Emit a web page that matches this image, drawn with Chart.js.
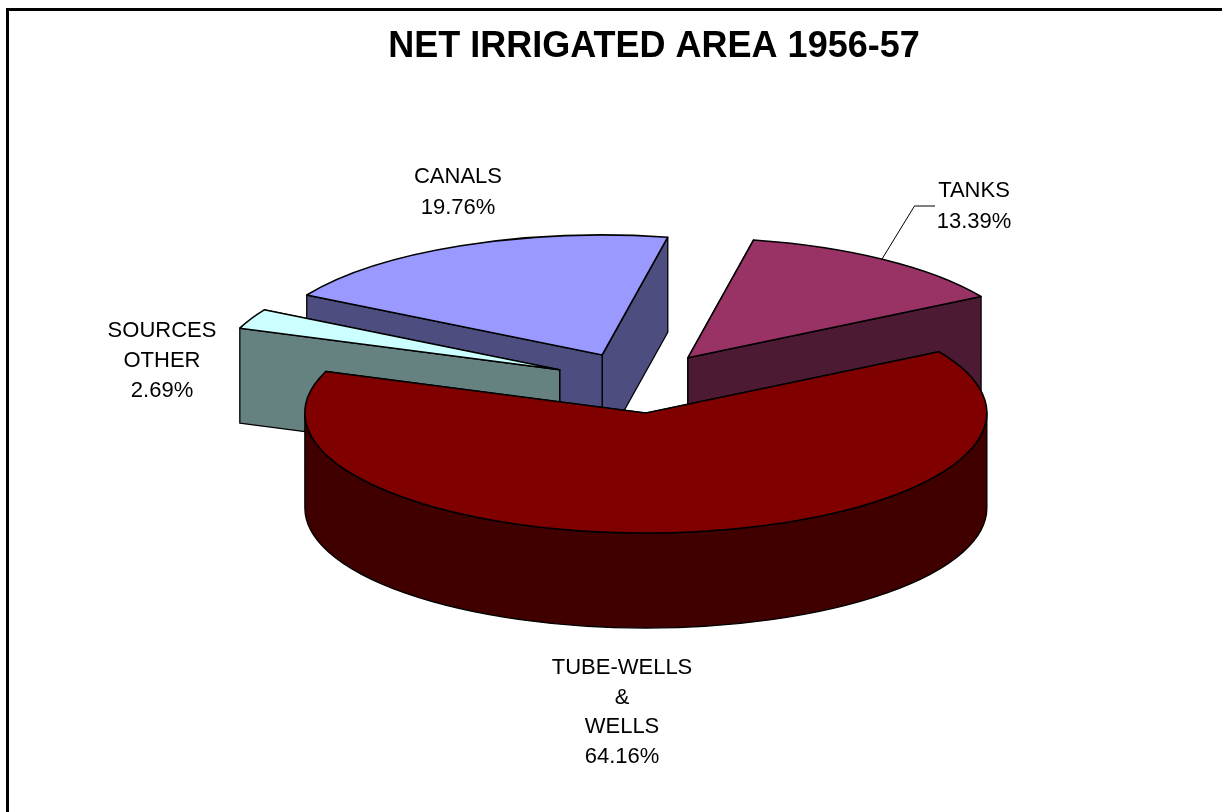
<!DOCTYPE html>
<html>
<head>
<meta charset="utf-8">
<title>Net Irrigated Area 1956-57</title>
<script src="https://cdn.jsdelivr.net/npm/chart.js@4"></script>
<style>html,body{margin:0;padding:0;background:#fff}canvas{display:block}</style>
</head>
<body>
<canvas id="c" width="1222" height="812"></canvas>
<script>
const categories = ['TUBE-WELLS & WELLS', 'SOURCES OTHER', 'CANALS', 'TANKS'];
const shares = [64.16, 2.69, 19.76, 13.39];
const topColours = ['#800000', '#CCFFFF', '#9999FF', '#993366'];
const wallColours = ['#400000', '#668280', '#4D4D80', '#4D1A33'];
const labelLines = [
  ['TUBE-WELLS', '&', 'WELLS', '64.16%'],
  ['SOURCES', 'OTHER', '2.69%'],
  ['CANALS', '19.76%'],
  ['TANKS', '13.39%']
];
const labelCentres = [[622, 668], [162, 331], [458, 177], [974, 191]];
const labelLineGaps = [29.6, 30, 31, 31];
const drawOrder = [2, 3, 1, 0];
const title = 'NET IRRIGATED AREA 1956-57';

const view = {cx: 638, cy: 382.7, tilt: 0.352, depth: 95};
const font = '"Liberation Sans", Arial, sans-serif';

const pie3d = {
  id: 'pie3d',
  beforeDraw(chart) {
    const c = chart.ctx;
    c.save();
    c.fillStyle = '#fff';
    c.fillRect(0, 0, chart.width, chart.height);
    c.strokeStyle = '#000';
    c.lineWidth = 3;
    c.beginPath();
    c.moveTo(7.5, chart.height);
    c.lineTo(7.5, 9.5);
    c.lineTo(chart.width, 9.5);
    c.stroke();
    c.restore();
  },
  beforeDatasetDraw(chart, args) {
    const c = chart.ctx;
    const arcs = args.meta.data;
    const {cx, cy, tilt, depth} = view;
    c.save();
    c.lineJoin = 'round';
    c.strokeStyle = '#000';
    drawOrder.forEach(i => {
      const el = arcs[i];
      // Chart.js moves an arc by offset/4, grows its radius by offset/4 * fix
      // and trims its sweep by a matching small angle; undo the last two here.
      const off = el.options.offset / 4;
      const fix = 1 - Math.sin(Math.min(Math.PI, el.circumference));
      const s = el.startAngle;
      const e = el.endAngle;
      const mid = (s + e) / 2;
      const ax = cx + Math.cos(mid) * off;
      const ay = cy + Math.sin(mid) * off * tilt;
      const r = el.outerRadius;
      const ry = r * tilt;
      const px = t => ax + Math.cos(t) * r;
      const py = t => ay + Math.sin(t) * ry;

      // radial walls, farther one first
      const edges = [s, e].sort((a, b) => py(a) - py(b));
      c.lineWidth = 1.3;
      c.fillStyle = wallColours[i];
      edges.forEach(t => {
        c.beginPath();
        c.moveTo(ax, ay);
        c.lineTo(px(t), py(t));
        c.lineTo(px(t), py(t) + depth);
        c.lineTo(ax, ay + depth);
        c.closePath();
        c.fill();
        c.stroke();
      });

      // outer rim, only its front-facing part
      const a = Math.max(s, 0);
      const b = Math.min(e, Math.PI);
      if (a < b) {
        c.beginPath();
        c.ellipse(ax, ay, r, ry, 0, a, b);
        c.lineTo(px(b), py(b) + depth);
        c.ellipse(ax, ay + depth, r, ry, 0, b, a, true);
        c.closePath();
        c.fill();
        c.stroke();
      }

      // top face: the library's own arc element, flattened
      const trim = (off * fix / Math.PI) / r / 2;
      c.save();
      c.translate(cx, cy);
      c.scale(1, tilt);
      c.translate(-el.x, -el.y);
      el.outerRadius = r - off * fix;
      el.startAngle = s - trim;
      el.endAngle = e + trim;
      el.draw(c, chart.chartArea);
      el.outerRadius = r;
      el.startAngle = s;
      el.endAngle = e;
      c.restore();

      c.lineWidth = 1.6;
      c.beginPath();
      c.moveTo(ax, ay);
      c.ellipse(ax, ay, r, ry, 0, s, e);
      c.closePath();
      c.stroke();
    });
    c.restore();
    return false;
  },
  afterDraw(chart) {
    const c = chart.ctx;
    c.save();
    c.fillStyle = '#000';
    c.font = '22px ' + font;
    c.textAlign = 'center';
    c.textBaseline = 'middle';
    labelLines.forEach((lines, i) => {
      lines.forEach((t, j) => {
        c.fillText(t, labelCentres[i][0], labelCentres[i][1] + j * labelLineGaps[i]);
      });
    });
    // leader line for TANKS
    c.strokeStyle = '#000';
    c.lineWidth = 1;
    c.beginPath();
    c.moveTo(882, 259);
    c.lineTo(914.5, 206);
    c.lineTo(935, 206);
    c.stroke();
    c.restore();
  }
};

new Chart(document.getElementById('c'), {
  type: 'pie',
  data: {
    labels: categories,
    datasets: [{
      data: shares,
      backgroundColor: topColours,
      borderWidth: 0,
      offset: 346
    }]
  },
  options: {
    responsive: false,
    animation: false,
    radius: 341,
    rotation: 59.3,
    layout: {padding: {left: 86, top: 25}},
    events: [],
    plugins: {
      legend: {display: false},
      tooltip: {enabled: false},
      title: {
        display: true,
        text: title,
        fullSize: false,
        color: '#000',
        font: {family: font, size: 36, weight: 'bold'},
        padding: 0
      }
    }
  },
  plugins: [pie3d]
});
</script>
</body>
</html>
